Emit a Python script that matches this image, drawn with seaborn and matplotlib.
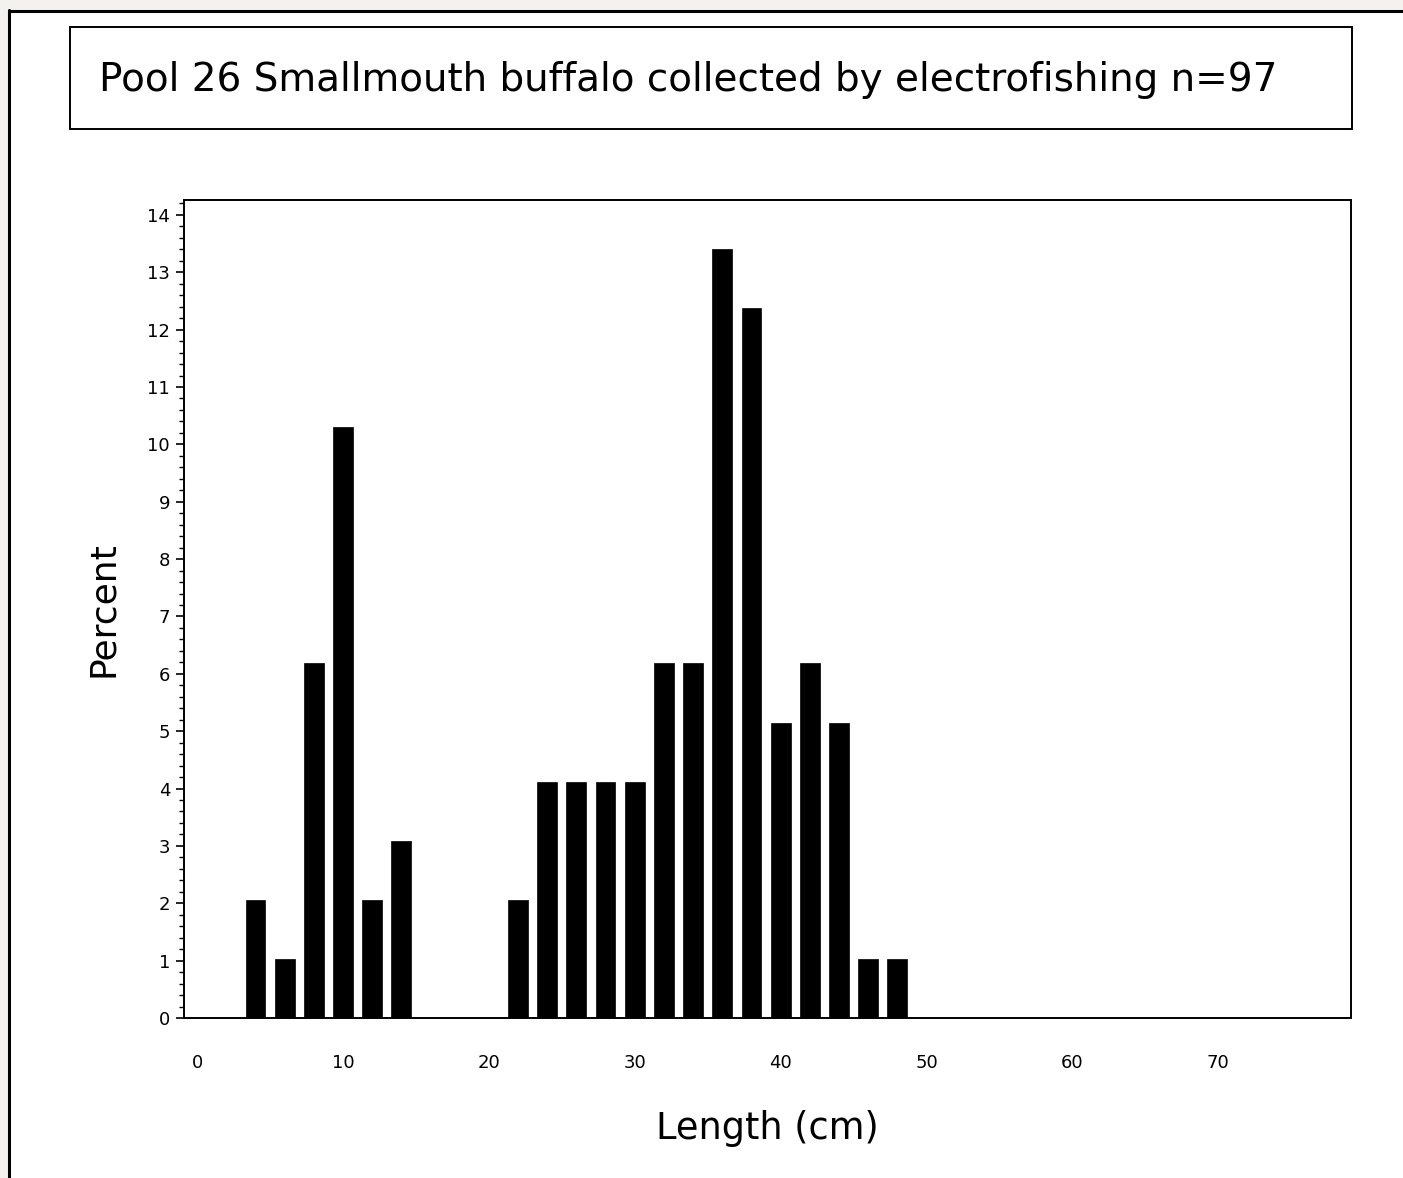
import numpy as np
import pandas as pd
import matplotlib
matplotlib.use("Agg")
import matplotlib.pyplot as plt
from matplotlib.patches import Rectangle
from matplotlib.lines import Line2D
from matplotlib.ticker import MultipleLocator
import seaborn as sns

# Length class midpoints (cm) and percent of fish
lengths = [4, 6, 8, 10, 12, 14, 22, 24, 26, 28, 30, 32, 34, 36, 38, 40, 42, 44, 46, 48]
percent = [2.06, 1.03, 6.19, 10.31, 2.06, 3.09,
           2.06, 4.12, 4.12, 4.12, 4.12, 6.19, 6.19, 13.40, 12.37, 5.15, 6.19, 5.15, 1.03, 1.03]
xtick_vals = [0, 10, 20, 30, 40, 50, 60, 70]
ytick_vals = list(range(0, 15))

title = "Pool 26 Smallmouth buffalo collected by electrofishing n=97"

df = pd.DataFrame({"Length": lengths, "Percent": percent})

sns.set_style("ticks")
plt.rcParams["font.family"] = ["DejaVu Sans"]
plt.rcParams["text.color"] = "black"
plt.rcParams["axes.labelcolor"] = "black"
plt.rcParams["xtick.color"] = "black"
plt.rcParams["ytick.color"] = "black"

W, H = 1403, 1178
fig = plt.figure(figsize=(W / 100, H / 100), dpi=100)
fig.patch.set_facecolor("#f4f2ee")

# white page with black left/top frame
fig.patches.append(Rectangle((9 / W, 0), 1 - 9 / W, 1 - 11 / H, transform=fig.transFigure,
                             facecolor="white", edgecolor="none", zorder=-5))
fig.lines.append(Line2D([9 / W, 9 / W], [0, 1 - 10 / H], transform=fig.transFigure, color="black", lw=2.2))
fig.lines.append(Line2D([9 / W, 1], [1 - 11 / H, 1 - 11 / H], transform=fig.transFigure, color="black", lw=2.2))

# title box
fig.patches.append(Rectangle((70 / W, 1 - 129 / H), 1282 / W, 102 / H, transform=fig.transFigure,
                             facecolor="white", edgecolor="black", lw=1.4, zorder=1))
fig.text(99 / W, 1 - 80 / H, title, ha="left", va="center", fontsize=28, zorder=2)

ax = fig.add_axes([184 / W, 1 - 1018 / H, (1351 - 184) / W, (1018 - 200) / H])
ax.set_facecolor("white")
sns.barplot(data=df, x="Length", y="Percent", native_scale=True, width=0.68,
            color="black", edgecolor="black", linewidth=0.5, ax=ax)

ax.set_xlim(-0.9, 79.1)
ax.set_ylim(0, 14.26)
ax.set_xticks(xtick_vals)
ax.set_yticks(ytick_vals)
ax.yaxis.set_minor_locator(MultipleLocator(0.2))
ax.tick_params(axis="x", length=0, pad=26, labelsize=13)
ax.tick_params(axis="y", which="major", length=6, width=1.2, pad=4, labelsize=13)
ax.tick_params(axis="y", which="minor", length=3.6, width=1.0)
for s in ax.spines.values():
    s.set_linewidth(1.4)
    s.set_color("black")

ax.set_xlabel("Length (cm)", fontsize=26.5)
ax.set_ylabel("Percent", fontsize=26)
ax.xaxis.label.set_va("center")
ax.yaxis.label.set_va("center")
ax.xaxis.set_label_coords(0.5, -0.1345)
ax.yaxis.set_label_coords(-0.0694, 0.5)

fig.savefig("out.png", dpi=100, facecolor=fig.get_facecolor())
